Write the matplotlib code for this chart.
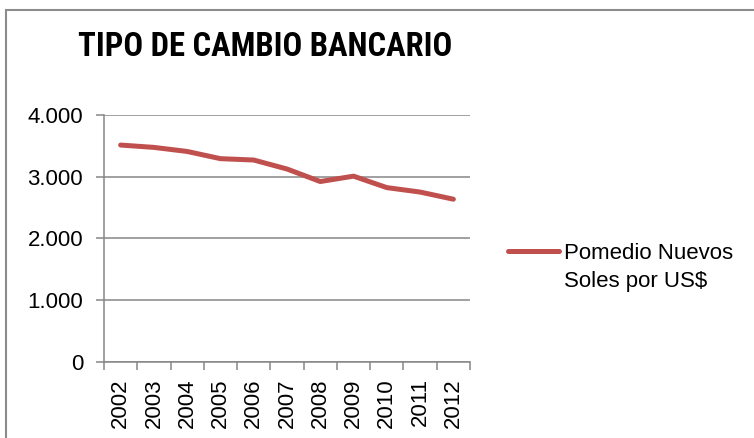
import matplotlib
matplotlib.use("Agg")
import matplotlib.pyplot as plt
from matplotlib.lines import Line2D
from matplotlib.patches import Rectangle

years = ["2002", "2003", "2004", "2005", "2006", "2007", "2008", "2009", "2010", "2011", "2012"]
tipo_cambio = [3.517, 3.479, 3.413, 3.296, 3.274, 3.128, 2.925, 3.012, 2.826, 2.754, 2.638]
y_ticks = [0, 1, 2, 3, 4]
y_labels = ["0", "1.000", "2.000", "3.000", "4.000"]
serie = ["Pomedio Nuevos", "Soles por US$"]

red = "#C0504D"
grey = "#868686"
plt.rcParams["font.family"] = ["Liberation Sans", "DejaVu Sans"]

fig = plt.figure(figsize=(7.54, 4.38), dpi=100)
fig.patches.append(Rectangle((6 / 754, -0.1), 1.2, 1.1 - 10 / 438,
                             transform=fig.transFigure, fill=False,
                             edgecolor="#8c8c8c", linewidth=1.5))

ax = fig.add_axes([104 / 754, 1 - 361.7 / 438, 366 / 754, 246.4 / 438])
x = list(range(len(years)))
ax.plot(x, tipo_cambio, color=red, linewidth=3.6, solid_capstyle="round")

ax.set_xlim(-0.5, len(years) - 0.5)
ax.set_ylim(0, 4)
ax.set_yticks(y_ticks)
ax.set_yticklabels(y_labels)
ax.grid(axis="y", color=grey, linewidth=1.1)
ax.set_axisbelow(True)

ax.set_xticks(x)
ax.set_xticklabels(years, rotation=90)
ax.set_xticks([i - 0.5 for i in range(len(years) + 1)], minor=True)
ax.tick_params(axis="x", which="major", length=0, pad=12, labelsize=16)
ax.tick_params(axis="x", which="minor", length=6, color=grey, width=1.1)
ax.tick_params(axis="y", length=6, color=grey, width=1.1, labelsize=16, pad=9)

for s in ["top", "right"]:
    ax.spines[s].set_visible(False)
for s in ["left", "bottom"]:
    ax.spines[s].set_color(grey)
    ax.spines[s].set_linewidth(1.1)

fig.text(265 / 754, 1 - 47 / 438, "TIPO DE CAMBIO BANCARIO",
         family=["Roboto Condensed", "Liberation Sans Narrow", "DejaVu Sans"],
         fontstretch="condensed", fontweight="bold",
         fontsize=23.5, ha="center", va="center")

handles = [Line2D([], [], color=red, linewidth=3.6, solid_capstyle="round"),
           Line2D([], [], color="none")]
fig.legend(handles, serie, loc="upper left", bbox_to_anchor=(508 / 754, 1 - 243 / 438),
           frameon=False, fontsize=16, handlelength=2.3, handletextpad=0.2,
           labelspacing=0.32, borderaxespad=0, borderpad=0)

fig.savefig("out.png", dpi=100)
